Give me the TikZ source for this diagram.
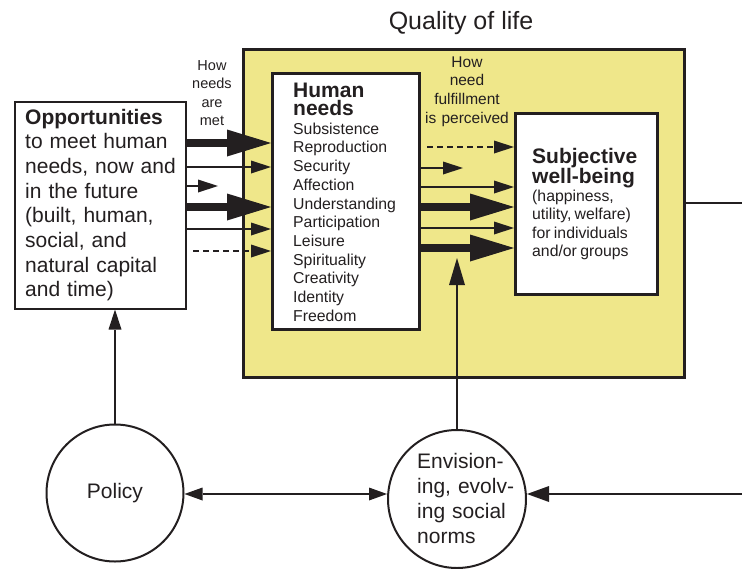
\documentclass[tikz,border=0pt]{standalone}
\usepackage{fontspec}
\setmainfont{Liberation Sans}
\usetikzlibrary{arrows.meta}
\definecolor{qy}{RGB}{239,231,138}
\definecolor{ink}{RGB}{35,31,32}
\tikzset{
  bigtip/.tip={Triangle[length=44pt,width=27pt,line width=0pt]},
  smalltip/.tip={Triangle[length=20pt,width=13pt,line width=0pt]},
  midtip/.tip={Triangle[length=18pt,width=13pt,line width=0pt]},
  thickarr/.style={line width=7.5pt,-bigtip},
  thinarr/.style={line width=1.6pt,-smalltip},
  dasharr/.style={line width=2pt,dash pattern=on 6pt off 4pt,-smalltip},
  uparr/.style={line width=1.8pt,-{Triangle[length=20pt,width=13pt,line width=0pt]}},
  uparrbig/.style={line width=2pt,-{Triangle[length=27pt,width=16pt,line width=0pt]}},
  harr/.style={line width=1.8pt,midtip-midtip},
  rarr/.style={line width=2.2pt,-{Triangle[length=22pt,width=16pt,line width=0pt]}},
  boxnode/.style={draw,rectangle,inner sep=0pt,anchor=north west},
  ring/.style={draw,circle,line width=2pt,inner sep=0pt},
  txt/.style={inner sep=0pt,align=left,anchor=base west},
  ctxt/.style={inner sep=0pt,align=center,anchor=base},
}
\begin{document}
\begin{tikzpicture}[x=1pt,y=-1pt,color=ink]
\useasboundingbox (0,0) rectangle (742,568);
% quality of life box
\node[boxnode,line width=3pt,fill=qy,minimum width=441pt,minimum height=328pt] (qol) at (241.5,47.5) {};
\node[ctxt,font=\fontsize{25}{29}\selectfont] (title) at (461,29) {Quality of life};
% boxes
\node[boxnode,line width=2.5pt,fill=white,minimum width=147pt,minimum height=256pt] (hn) at (271,72) {};
\node[boxnode,line width=2.5pt,fill=white,minimum width=142pt,minimum height=181pt] (swb) at (514,112) {};
\node[boxnode,line width=2pt,fill=white,minimum width=171.5pt,minimum height=207pt] (opp) at (13.5,100.5) {};
% texts
\node[txt,text width=165pt,font=\fontsize{21}{24.7}\selectfont] (opptxt) at (25,124)
  {\textbf{Opportunities}\\to meet human\\needs, now and\\in the future\\(built, human,\\social, and\\natural capital\\and time)\par};
\node[txt,text width=125pt] (hntxt) at (293,97)
  {{\fontsize{21}{18.5}\selectfont\bfseries Human\\needs\par}\fontsize{15.8}{18.7}\selectfont
   Subsistence\\Reproduction\\Security\\Affection\\Understanding\\Participation\\Leisure\\Spirituality\\Creativity\\Identity\\Freedom\par};
\node[txt,text width=122pt] (swbtxt) at (532,163)
  {{\fontsize{21}{20}\selectfont\bfseries Subjective\\well-being\par}\fontsize{15.8}{18.4}\selectfont
   (happiness,\\utility, welfare)\\for individuals\\and/or groups\par};
\node[ctxt,text width=60pt,font=\fontsize{14.5}{18.5}\selectfont] (met) at (212,70) {How\\needs\\are\\met\par};
\node[ctxt,text width=100pt,font=\fontsize{15.5}{18.7}\selectfont] (perc) at (467,67) {How\\need\\fulfillment\\is perceived\par};
% circles
\node[ring,minimum size=137pt,font=\fontsize{21}{25}\selectfont] (policy) at (115,493) {Policy};
\node[ring,minimum size=138pt] (env) at (457,499) {};
\node[txt,text width=130pt,font=\fontsize{21}{25.3}\selectfont] (envtxt) at (417,468) {Envision-\\ing, evolv-\\ing social\\norms\par};
% left arrows
\coordinate (ls) at (218,186);
\coordinate (ld) at (193,251);
\draw[thickarr] (opp.east |- 0,143) -- (hn.west |- 0,143);
\draw[thinarr] (opp.east |- 0,167) -- (hn.west |- 0,167);
\draw[thinarr] (opp.east |- ls) -- (ls);
\draw[thickarr] (opp.east |- 0,207) -- (hn.west |- 0,207);
\draw[thinarr] (opp.east |- 0,229) -- (hn.west |- 0,229);
\draw[dasharr] (ld) -- (hn.west |- ld);
% right arrows
\coordinate (rd) at (427,147);
\coordinate (rs) at (463,168);
\draw[dasharr] (rd) -- (swb.west |- rd);
\draw[thinarr] (hn.east |- rs) -- (rs);
\draw[thinarr] (hn.east |- 0,187) -- (swb.west |- 0,187);
\draw[thickarr] (hn.east |- 0,207) -- (swb.west |- 0,207);
\draw[thinarr] (hn.east |- 0,228) -- (swb.west |- 0,228);
\draw[thickarr] (hn.east |- 0,248) -- (swb.west |- 0,248);
% vertical arrows
\coordinate (envtip) at (457,258);
\draw[uparr] (policy.north) -- (policy.north |- opp.south);
\draw[uparrbig] (env.north) -- (envtip);
% feedback
\coordinate (fbT) at (742,203);
\coordinate (fbB) at (742,494);
\draw[line width=1.8pt] (qol.east |- fbT) -- (fbT);
\draw[rarr] (fbB) -- (env.east |- fbB);
\draw[harr] (policy.east |- 0,494) -- (env.west |- 0,494);
\end{tikzpicture}
\end{document}
